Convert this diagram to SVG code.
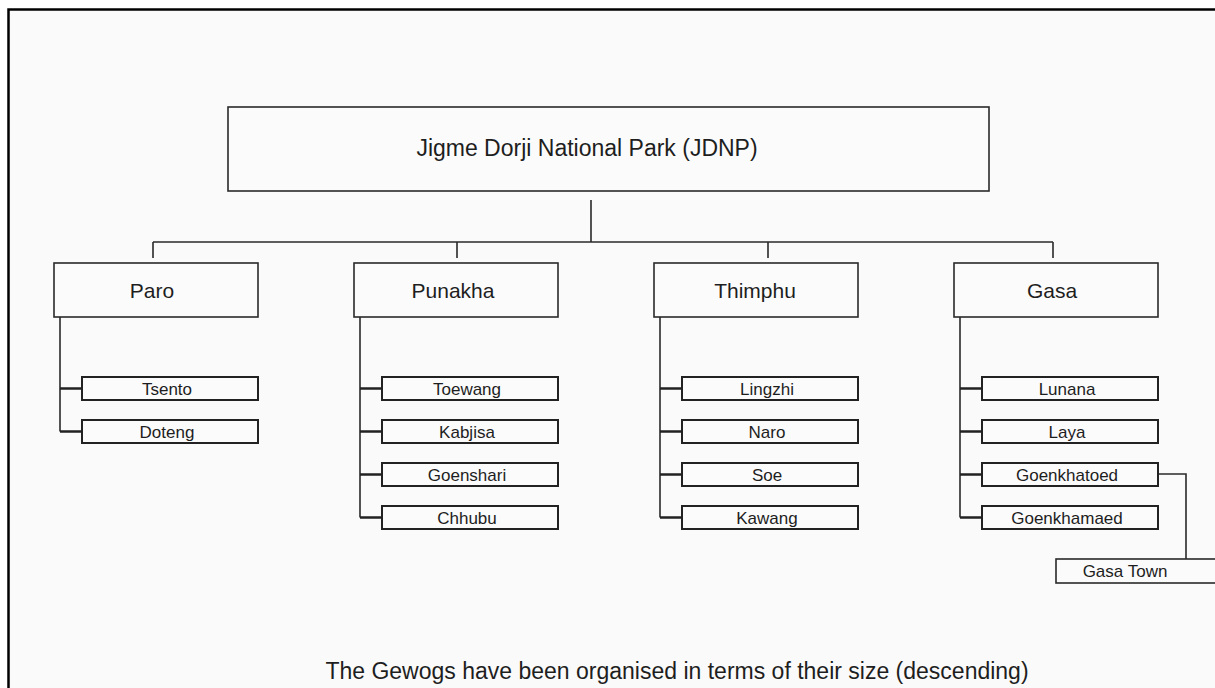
<svg xmlns="http://www.w3.org/2000/svg" width="1215" height="688" viewBox="0 0 1215 688">
<style>
.frame{fill:#fafafa;stroke:#000;stroke-width:2.5}
.box{fill:#fbfbfb;stroke:#2a2a2a;stroke-width:1.6}
.sbox{fill:#fbfbfb;stroke:#222;stroke-width:2}
.ln{fill:none;stroke:#2a2a2a;stroke-width:1.6}
.br{fill:none;stroke:#222;stroke-width:2.4}
text{font-family:"Liberation Sans",Arial,sans-serif;fill:#1e1e1e;text-anchor:middle}
.t0{font-size:23px}
.t1{font-size:21px}
.t2{font-size:17px}
.cap{font-size:23px}
</style>
<rect width="1215" height="688" fill="#fff"/>
<rect class="frame" x="8.5" y="9.5" width="1230" height="700"/>

<g id="connectors">
<path class="ln" d="M591 200V242M153 242H1053M153 242V258M457 242V258M768 242V258M1053 242V258"/>
<path class="ln" d="M60 317V431.5M360 317V517.5M660 317V517.5M960 317V517.5"/>
<path class="br" d="M60 388.5H82M60 431.5H82"/>
<path class="br" d="M360 388.5H382M360 431.5H382M360 474.5H382M360 517.5H382"/>
<path class="br" d="M660 388.5H682M660 431.5H682M660 474.5H682M660 517.5H682"/>
<path class="br" d="M960 388.5H982M960 431.5H982M960 474.5H982M960 517.5H982"/>
<path class="ln" d="M1158 474H1186V559"/>
</g>

<g id="jdnp"><rect class="box" x="228" y="107" width="761" height="84"/><text class="t0" x="587" y="156">Jigme Dorji National Park (JDNP)</text></g>

<g id="paro"><rect class="box" x="54" y="263" width="204" height="54"/><text class="t1" x="152" y="298">Paro</text></g>
<g id="punakha"><rect class="box" x="354" y="263" width="204" height="54"/><text class="t1" x="453" y="298">Punakha</text></g>
<g id="thimphu"><rect class="box" x="654" y="263" width="204" height="54"/><text class="t1" x="755" y="298">Thimphu</text></g>
<g id="gasa"><rect class="box" x="954" y="263" width="204" height="54"/><text class="t1" x="1052" y="298">Gasa</text></g>

<g id="tsento"><rect class="sbox" x="82" y="377" width="176" height="23"/><text class="t2" x="167" y="395">Tsento</text></g>
<g id="doteng"><rect class="sbox" x="82" y="420" width="176" height="23"/><text class="t2" x="167" y="438">Doteng</text></g>

<g id="toewang"><rect class="sbox" x="382" y="377" width="176" height="23"/><text class="t2" x="467" y="395">Toewang</text></g>
<g id="kabjisa"><rect class="sbox" x="382" y="420" width="176" height="23"/><text class="t2" x="467" y="438">Kabjisa</text></g>
<g id="goenshari"><rect class="sbox" x="382" y="463" width="176" height="23"/><text class="t2" x="467" y="481">Goenshari</text></g>
<g id="chhubu"><rect class="sbox" x="382" y="506" width="176" height="23"/><text class="t2" x="467" y="524">Chhubu</text></g>

<g id="lingzhi"><rect class="sbox" x="682" y="377" width="176" height="23"/><text class="t2" x="767" y="395">Lingzhi</text></g>
<g id="naro"><rect class="sbox" x="682" y="420" width="176" height="23"/><text class="t2" x="767" y="438">Naro</text></g>
<g id="soe"><rect class="sbox" x="682" y="463" width="176" height="23"/><text class="t2" x="767" y="481">Soe</text></g>
<g id="kawang"><rect class="sbox" x="682" y="506" width="176" height="23"/><text class="t2" x="767" y="524">Kawang</text></g>

<g id="lunana"><rect class="sbox" x="982" y="377" width="176" height="23"/><text class="t2" x="1067" y="395">Lunana</text></g>
<g id="laya"><rect class="sbox" x="982" y="420" width="176" height="23"/><text class="t2" x="1067" y="438">Laya</text></g>
<g id="goenkhatoed"><rect class="sbox" x="982" y="463" width="176" height="23"/><text class="t2" x="1067" y="481">Goenkhatoed</text></g>
<g id="goenkhamaed"><rect class="sbox" x="982" y="506" width="176" height="23"/><text class="t2" x="1067" y="524">Goenkhamaed</text></g>

<g id="gasa-town"><rect class="box" x="1056" y="559" width="180" height="24"/><text class="t2" x="1125" y="577">Gasa Town</text></g>

<text class="cap" x="677" y="679">The Gewogs have been organised in terms of their size (descending)</text>
</svg>
